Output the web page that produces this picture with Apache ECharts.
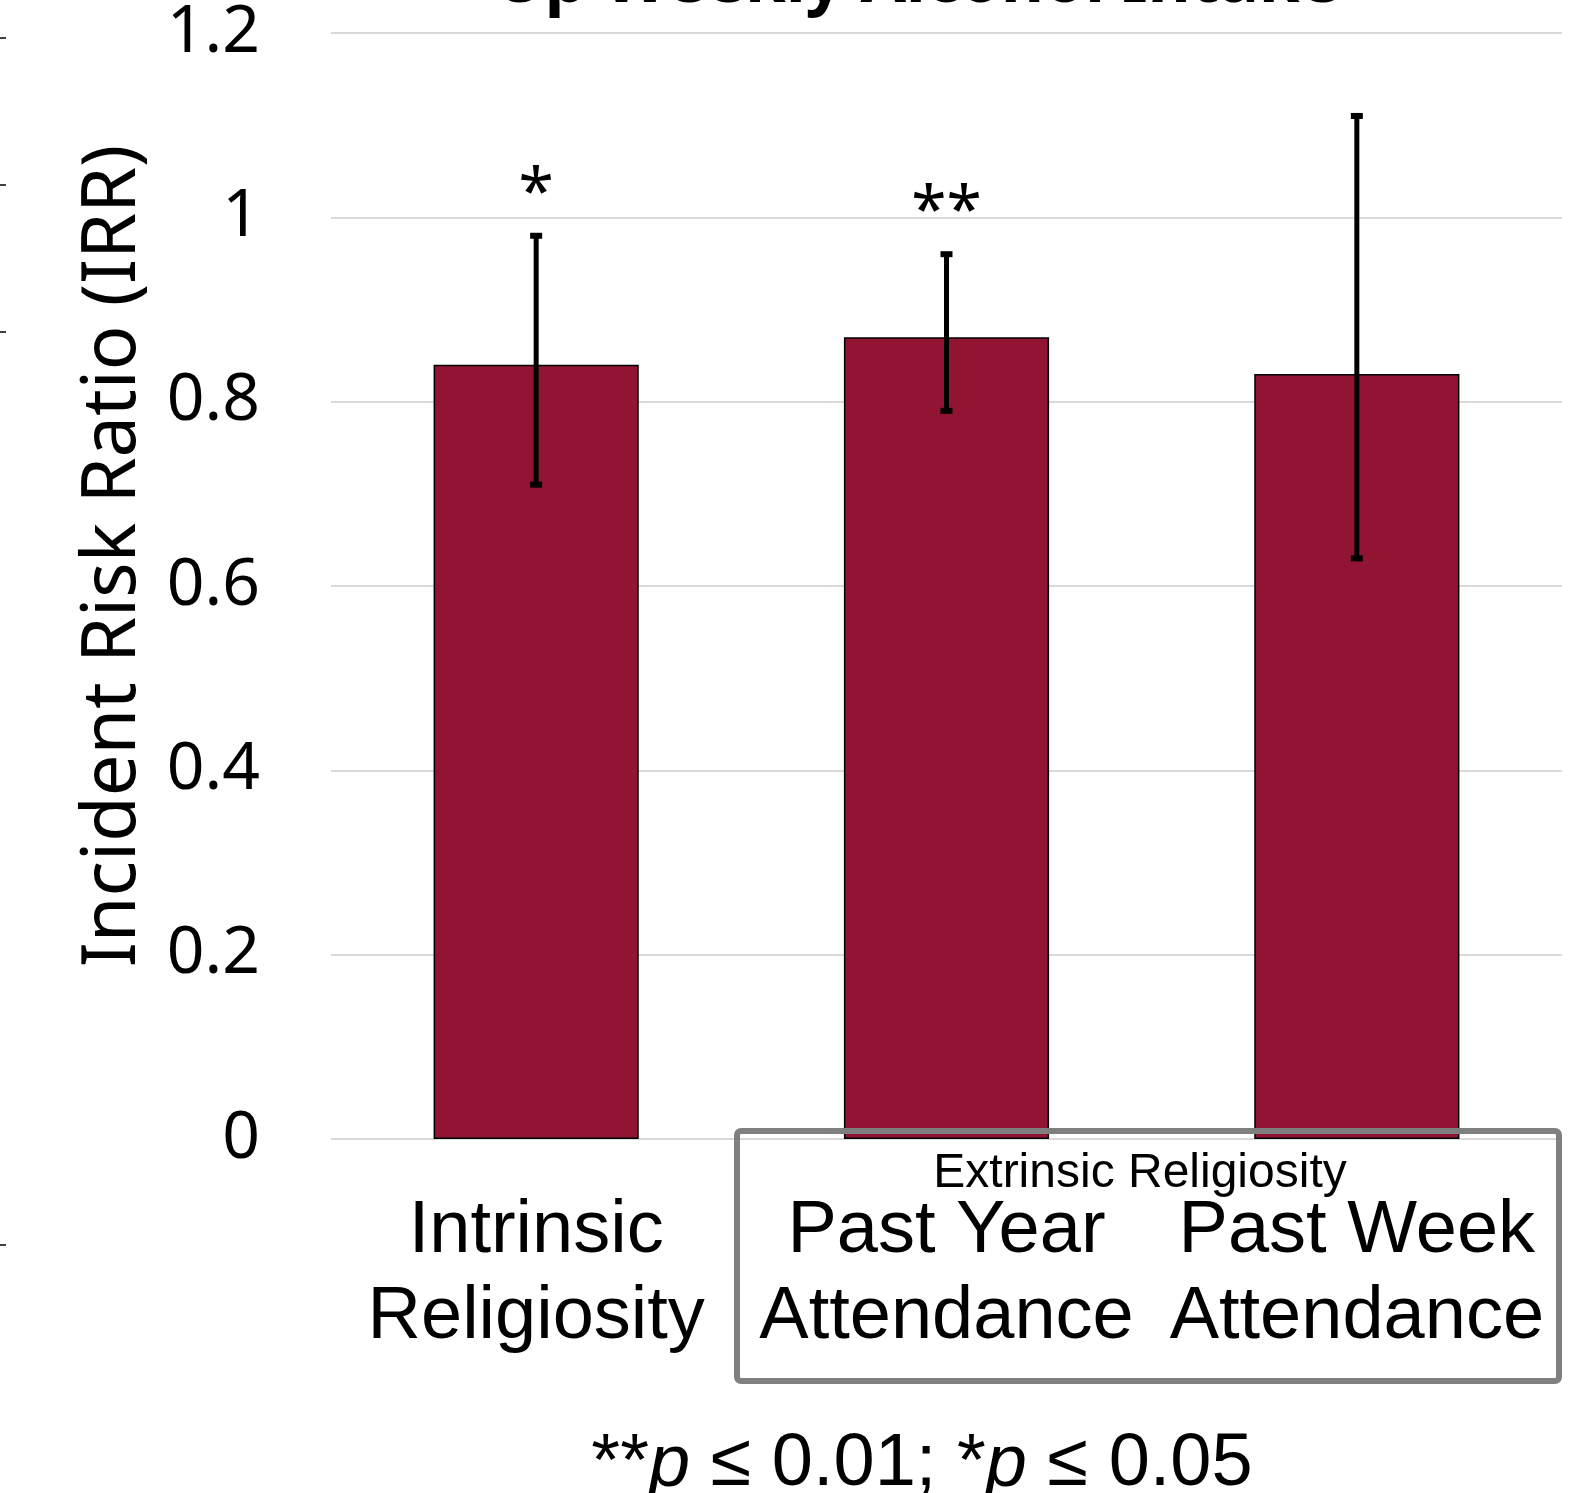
<!DOCTYPE html>
<html>
<head>
<meta charset="utf-8">
<script src="https://cdn.jsdelivr.net/npm/echarts@6/dist/echarts.min.js"></script>
<style>
  html, body { margin: 0; padding: 0; background: #fff; }
  #chart { width: 1585px; height: 1493px; }
</style>
</head>
<body>
<div id="chart"></div>
<script>
// values
var categories = ['Intrinsic\nReligiosity', 'Past Year\nAttendance', 'Past Week\nAttendance'];
var irr = [0.84, 0.87, 0.83];
var ciLow = [0.71, 0.79, 0.63];
var ciHigh = [0.98, 0.96, 1.11];
var stars = ['*', '**', ''];

var errData = [];
for (var i = 0; i < categories.length; i++) {
  errData.push([i, ciLow[i], ciHigh[i]]);
}

var sansFont = '"Noto Sans", "Open Sans", sans-serif';
var arialFont = '"Liberation Sans", Arial, sans-serif';

function renderErr(params, api) {
  var lowPt = api.coord([api.value(0), api.value(1)]);
  var highPt = api.coord([api.value(0), api.value(2)]);
  var x = lowPt[0];
  var kids = [
    { type: 'line', shape: { x1: x, y1: lowPt[1], x2: x, y2: highPt[1] }, style: { stroke: '#000', lineWidth: 5 } },
    { type: 'rect', shape: { x: x - 6, y: highPt[1] - 3, width: 12, height: 6 }, style: { fill: '#000' } },
    { type: 'rect', shape: { x: x - 6, y: lowPt[1] - 3, width: 12, height: 6 }, style: { fill: '#000' } }
  ];
  var s = stars[params.dataIndex];
  if (s) {
    kids.push({
      type: 'text', x: x, y: highPt[1] - 40,
      style: { text: s, font: '64px ' + sansFont, fill: '#000', align: 'center', verticalAlign: 'middle' }
    });
  }
  return { type: 'group', children: kids };
}

var chart = echarts.init(document.getElementById('chart'));
var option = {
  animation: false,
  backgroundColor: '#fff',
  grid: { left: 331, right: 23, top: 30, bottom: 354 },
  xAxis: {
    type: 'category',
    data: categories,
    axisLine: { show: false },
    axisTick: { show: false },
    axisLabel: {
      interval: 0, margin: 50, color: '#000',
      fontFamily: arialFont, fontSize: 74, lineHeight: 86
    }
  },
  yAxis: {
    type: 'value',
    min: 0, max: 1.2, interval: 0.2,
    name: 'Incident Risk Ratio (IRR)',
    nameLocation: 'middle',
    nameGap: 180,
    nameTextStyle: { fontFamily: sansFont, fontSize: 74, color: '#000', padding: [0, 0, 0, 60] },
    axisLine: { show: false },
    axisTick: { show: false },
    axisLabel: { margin: 71, color: '#000', fontFamily: sansFont, fontSize: 66 },
    splitLine: { lineStyle: { color: '#d9d9d9', width: 2 } }
  },
  series: [
    {
      type: 'bar',
      data: irr,
      barWidth: '50%',
      itemStyle: { color: '#911432', borderColor: '#000', borderWidth: 1.5 }
    },
    {
      type: 'custom',
      data: errData,
      renderItem: renderErr,
      z: 5
    }
  ],
  graphic: [
    // title, mostly cut off by the top edge
    { type: 'text', x: 917, y: -17, style: { text: 'Up Weekly Alcohol Intake', font: 'bold 66px ' + sansFont, fill: '#000', align: 'center', verticalAlign: 'middle' } },
    // box round the extrinsic items
    { type: 'rect', z: 100, shape: { x: 737, y: 1131, width: 822, height: 250, r: 4 }, style: { fill: 'none', stroke: '#7f7f7f', lineWidth: 6 } },
    { type: 'text', z: 100, x: 1140, y: 1174, style: { text: 'Extrinsic Religiosity', font: '48px ' + arialFont, fill: '#000', align: 'center', verticalAlign: 'middle' } },
    // footnote
    {
      type: 'text', x: 922, y: 1465,
      style: {
        text: '**{i|p} ≤ 0.01; *{i|p} ≤ 0.05',
        font: '74px ' + arialFont, fill: '#000', align: 'center', verticalAlign: 'middle',
        rich: { i: { fontStyle: 'italic', fontFamily: arialFont, fontSize: 74 } }
      }
    },
    // stray ticks of a neighbouring panel at the left edge
    { type: 'line', shape: { x1: 0, y1: 38, x2: 6, y2: 38 }, style: { stroke: '#000', lineWidth: 1.5 } },
    { type: 'line', shape: { x1: 0, y1: 185, x2: 6, y2: 185 }, style: { stroke: '#000', lineWidth: 1.5 } },
    { type: 'line', shape: { x1: 0, y1: 332, x2: 6, y2: 332 }, style: { stroke: '#000', lineWidth: 1.5 } },
    { type: 'line', shape: { x1: 0, y1: 1245, x2: 6, y2: 1245 }, style: { stroke: '#000', lineWidth: 1.5 } }
  ]
};
chart.setOption(option);
</script>
</body>
</html>
